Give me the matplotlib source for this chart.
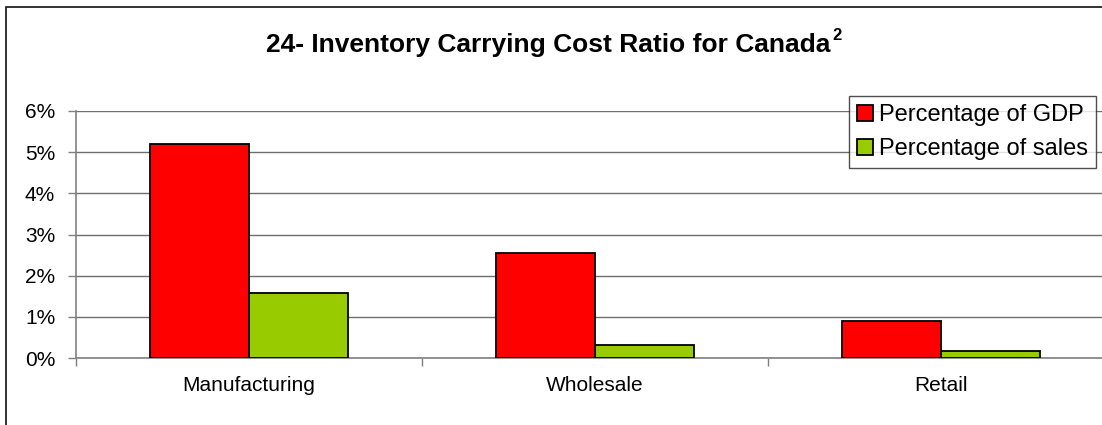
import numpy as np
import matplotlib.pyplot as plt
from matplotlib.patches import Rectangle
from matplotlib.ticker import FuncFormatter

# data (percent)
categories = ['Manufacturing', 'Wholesale', 'Retail']
pct_gdp = [5.21, 2.56, 0.90]
pct_sales = [1.57, 0.32, 0.18]
series_names = ['Percentage of GDP', 'Percentage of sales']

plt.rcParams['font.family'] = ['Liberation Sans', 'DejaVu Sans']

W, H = 1102, 425
fig = plt.figure(figsize=(W / 100, H / 100), dpi=100)

# outer chart frame (cut off on right and bottom like the reference)
fig.patches.append(Rectangle((6 / W, -0.1), 1.2, 1 - 6.5 / H + 0.1,
                             transform=fig.transFigure, fill=False,
                             edgecolor='#222222', linewidth=1.3))

ax = fig.add_axes([76 / W, 67 / H, 1038 / W, 247 / H])

x = np.arange(len(categories))
barWidth = 0.286
ax.bar(x - barWidth / 2, pct_gdp, width=barWidth, color='#FF0000',
       edgecolor='black', linewidth=1.3, label=series_names[0], zorder=3)
ax.bar(x + barWidth / 2, pct_sales, width=barWidth, color='#99CC00',
       edgecolor='black', linewidth=1.3, label=series_names[1], zorder=3)

ax.set_xlim(-0.5, 2.5)
ax.set_ylim(0, 6)
ax.set_yticks(range(0, 7))
ax.yaxis.set_major_formatter(FuncFormatter(lambda v, p: '{:d}%'.format(int(v))))
ax.grid(axis='y', color='#6e6e6e', linewidth=1.0, zorder=0)

# category boundaries as ticks, labels in between
ax.set_xticks([-0.5, 0.5, 1.5, 2.5])
ax.set_xticklabels([])
ax.set_xticks(x, minor=True)
ax.set_xticklabels(categories, minor=True)
ax.tick_params(axis='x', which='minor', length=0, pad=13, labelsize=15)
ax.tick_params(axis='x', which='major', length=6, width=1, color='#808080', direction='out')
ax.tick_params(axis='y', length=6, width=1, color='#808080', pad=9, labelsize=15)

for side in ['top', 'right']:
    ax.spines[side].set_visible(False)
ax.spines['left'].set_color('#808080')
ax.spines['bottom'].set_color('#808080')
ax.spines['left'].set_linewidth(1.2)
ax.spines['bottom'].set_linewidth(1.2)

title = fig.text(266 / W, 1 - 45 / H, '24- Inventory Carrying Cost Ratio for Canada',
                 ha='left', va='center', fontsize=19, fontweight='bold')
fig.canvas.draw()
bb = title.get_window_extent()
fig.text((bb.x1 + 2) / W, 1 - 36 / H, '2', ha='left', va='center',
         fontsize=12, fontweight='bold')

leg = ax.legend(loc='upper right', bbox_to_anchor=(1096 / W, 1 - 96 / H),
                bbox_transform=fig.transFigure, fontsize=17, frameon=True,
                fancybox=False, borderpad=0.35, labelspacing=0.5,
                handlelength=0.65, handleheight=0.65, handletextpad=0.25,
                borderaxespad=0)
leg.get_frame().set_edgecolor('#222222')
leg.get_frame().set_linewidth(1.0)

plt.savefig('out.png', dpi=100)
